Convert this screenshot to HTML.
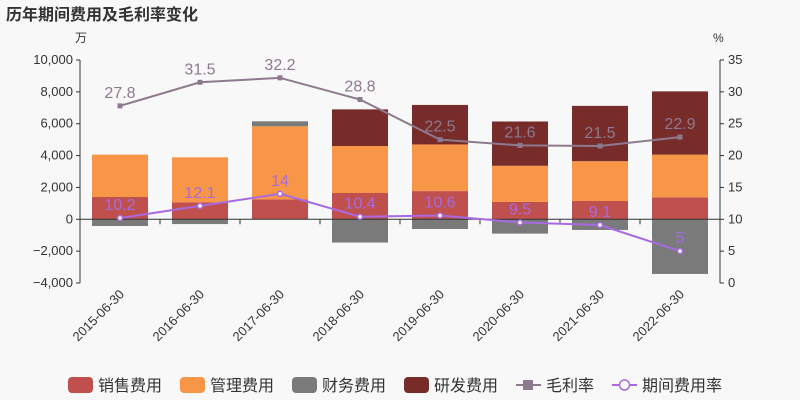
<!DOCTYPE html>
<html><head><meta charset="utf-8"><style>
body{margin:0;background:#f8f8f8;}
svg{display:block;font-family:"Liberation Sans","Noto Sans CJK SC",sans-serif;}
</style></head><body>
<svg id="c" width="800" height="400"></svg>
<script>
const categories=["2015-06-30","2016-06-30","2017-06-30","2018-06-30","2019-06-30","2020-06-30","2021-06-30","2022-06-30"];
const salesExp=[1400,1070,1250,1650,1770,1090,1150,1380];
const mgmtExp=[2660,2820,4590,2950,2930,2270,2500,2680];
const finExp=[-420,-300,310,-1460,-610,-900,-670,-3430];
const rdExp=[0,0,0,2300,2480,2780,3470,3970];
const grossMargin=[27.8,31.5,32.2,28.8,22.5,21.6,21.5,22.9];
const expenseRate=[10.2,12.1,14,10.4,10.6,9.5,9.1,5];
const leftTicks=[-4000,-2000,0,2000,4000,6000,8000,10000];
const rightTicks=[0,5,10,15,20,25,30,35];
const NS="http://www.w3.org/2000/svg";
const svg=document.getElementById('c');
const X0=80,X1=720,Y0=60,Y1=283;
const yL=v=>Y0+(10000-v)/14000*(Y1-Y0);
const yR=v=>Y1-v/35*(Y1-Y0);
const bw=(X1-X0)/categories.length;
const xC=i=>X0+bw*(i+0.5);
function el(t,a,txt){const e=document.createElementNS(NS,t);for(const k in a)e.setAttribute(k,a[k]);if(txt!==undefined)e.textContent=txt;svg.appendChild(e);return e;}
let e=el('text',{x:6,y:20,'font-size':16,'font-weight':'bold',fill:'#333'},'历年期间费用及毛利率变化');

e=el('text',{x:75,y:42,'font-size':12,fill:'#333'},'万');

e=el('text',{x:713,y:42,'font-size':12,fill:'#333'},'%');

el('line',{x1:X0,y1:Y0,x2:X0,y2:Y1,stroke:'#333'});
el('line',{x1:X1,y1:Y0,x2:X1,y2:Y1,stroke:'#333'});
leftTicks.forEach(v=>{const y=yL(v);el('line',{x1:X0-4,y1:y,x2:X0,y2:y,stroke:'#333'});
 e=el('text',{x:X0-7,y:y+4,'font-size':13,fill:'#333','text-anchor':'end'},v.toLocaleString('en-US').replace('-','−'));
 });
rightTicks.forEach(v=>{const y=yR(v);el('line',{x1:X1,y1:y,x2:X1+4,y2:y,stroke:'#333'});
 e=el('text',{x:X1+8,y:y+4,'font-size':13,fill:'#333'},String(v));
 });
const cols=['#c0504d','#f79646','#7a7a7a','#772c2a'];
const series=[salesExp,mgmtExp,finExp,rdExp];
const names=['bar-sales','bar-mgmt','bar-finance','bar-rd'];
categories.forEach((c,i)=>{let pos=0,neg=0;
 series.forEach((s,k)=>{const v=s[i];if(!v)return;let a,b;
  if(v>=0){a=pos;b=pos+v;pos=b;}else{a=neg;b=neg+v;neg=b;}
  const y1=yL(Math.max(a,b)),y2=yL(Math.min(a,b));
  const r=el('rect',{x:xC(i)-28,y:y1,width:56,height:y2-y1,fill:cols[k]});
  });
 const t=el('text',{x:xC(i)+5,y:Y1+12,'font-size':13,fill:'#333','text-anchor':'end',transform:`rotate(-45 ${xC(i)+5} ${Y1+12})`},c);
 
 el('line',{x1:X0+bw*i,y1:yL(0),x2:X0+bw*i,y2:yL(0)+5,stroke:'#333'});
});
el('line',{x1:X0,y1:yL(0),x2:X1,y2:yL(0),stroke:'#333'});
function line(data,color,name,sq){
 const p=el('polyline',{points:data.map((v,i)=>xC(i)+','+yR(v)).join(' '),fill:'none',stroke:color,'stroke-width':2});
 
 data.forEach((v,i)=>{let m;
  if(sq)m=el('rect',{x:xC(i)-2.5,y:yR(v)-2.5,width:5,height:5,fill:color});
  else m=el('circle',{cx:xC(i),cy:yR(v),r:2.5,fill:'#fff',stroke:color,'stroke-width':1.5});
  
  const t=el('text',{x:xC(i),y:yR(v)-8,'font-size':16,fill:color,'text-anchor':'middle'},String(v));
  });
}
line(grossMargin,'#8e7a8e','gross-margin-line',true);
line(expenseRate,'#a86ae0','expense-rate-line',false);
const leg=[['销售费用',cols[0],'r'],['管理费用',cols[1],'r'],['财务费用',cols[2],'r'],['研发费用',cols[3],'r'],['毛利率','#8e7a8e','l'],['期间费用率','#a86ae0','c']];
const lx=[68,180,292,404,516,612];
leg.forEach((l,i)=>{const x=lx[i],y=385;
 if(l[2]==='r'){e=el('rect',{x:x,y:y-8,width:25,height:16,rx:4,fill:l[1]});}
 else{el('line',{x1:x,y1:y,x2:x+25,y2:y,stroke:l[1],'stroke-width':2});
  e=l[2]==='l'?el('rect',{x:x+7,y:y-5,width:10,height:10,fill:l[1]}):el('circle',{cx:x+12.5,cy:y,r:5,fill:'#fff',stroke:l[1],'stroke-width':1.5});}
 
 e=el('text',{x:x+30,y:y+6,'font-size':16,fill:'#333'},l[0]);
 });
</script>
</body></html>
